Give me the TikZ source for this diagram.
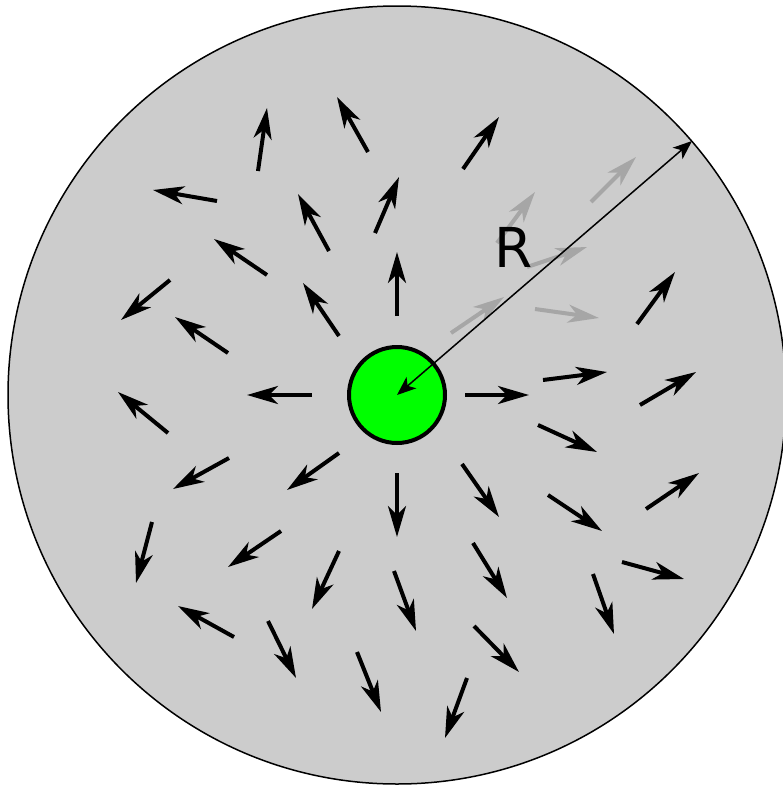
\documentclass[tikz,border=0pt]{standalone}
\usepackage{fontspec}
\setmainfont{DejaVu Sans}
\usetikzlibrary{arrows.meta}
\definecolor{diskgray}{RGB}{204,204,204}
\definecolor{ghostgray}{RGB}{166,166,166}
\definecolor{srcgreen}{RGB}{0,255,0}
\begin{document}
\begin{tikzpicture}[x=1pt, y=-1pt, >={Stealth[length=31pt, width=18pt, inset=9pt]},
	vec/.style={->, line width=4pt},
	ghost/.style={vec, draw=ghostgray, fill=ghostgray}]
	\useasboundingbox (0,0) rectangle (783,787);
	
	% 1. 定义圆心与半径端点
	\coordinate (O) at (397,395);
	\coordinate (E) at (692,141);
	
	% 2. 绘制大圆盘
	\draw[fill=diskgray, line width=1.5pt] (O) circle (389pt);
	
	% 3. 绘制灰色箭头（旧的场）
	\foreach \ax/\ay/\bx/\by in {591/202/636/157, 497/243/535/192, 527/267/587/247,
		451/333/504/297, 535/309/599/318}
		\draw[ghost] (\ax,\ay) -- (\bx,\by);
	
	% 4. 绘制黑色箭头（场）
	\foreach \ax/\ay/\bx/\by in {258/171/267/108, 368/152/337/97, 463/169/499/117,
		217/201/153/190, 329/251/298/194, 375/233/399/177, 267/275/214/239,
		170/280/121/320, 228/353/175/317, 339/336/303/283, 397/316/397/252,
		637/324/675/272, 312/395/247/395, 465/395/529/395, 543/380/607/372,
		640/405/696/372, 168/433/118/392, 229/458/173/489, 339/453/287/490,
		397/473/397/537, 538/425/597/452, 462/464/499/517, 548/495/602/531,
		646/509/699/473, 152/522/136/583, 281/531/228/567, 339/551/312/609,
		394/571/416/631, 473/543/507/598, 622/562/684/579, 593/574/614/634,
		234/637/178/606, 268/621/296/678, 357/652/381/712, 474/626/519/672,
		467/678/445/738}
		\draw[vec] (\ax,\ay) -- (\bx,\by);
	
	% 5. 绘制绿色源
	\draw[fill=srcgreen, line width=4pt] (O) circle (48pt);
	
	% 6. 半径（两端箭头）与标注
	\draw[{Stealth[length=19pt, width=15pt, inset=5pt]}-{Stealth[length=19pt, width=15pt, inset=5pt]},
		line width=1.5pt] (O) -- (E);
	\node[inner sep=0pt, font=\fontsize{55}{60}\selectfont] (lbl) at (514,247) {R};
\end{tikzpicture}
\end{document}
